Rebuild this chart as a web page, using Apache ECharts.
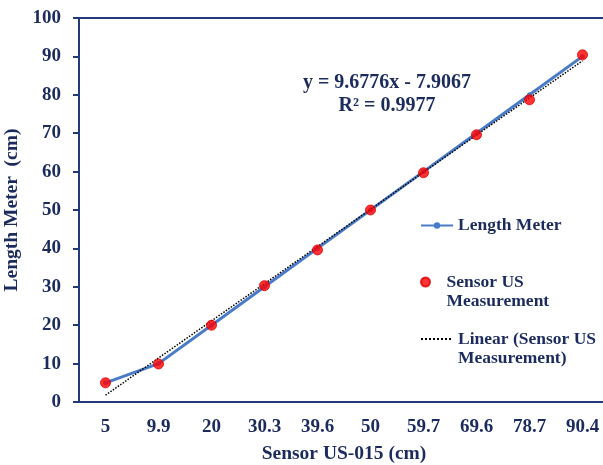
<!DOCTYPE html>
<html>
<head>
<meta charset="utf-8">
<script src="https://cdn.jsdelivr.net/npm/echarts@6/dist/echarts.min.js"></script>
<style>
html,body{margin:0;padding:0;background:#fff;}
#chart{width:603px;height:465px;}
</style>
</head>
<body>
<div id="chart"></div>
<script>
const categories = ['5','9.9','20','30.3','39.6','50','59.7','69.6','78.7','90.4'];
const lengthMeter = [5,10,20,30,40,50,60,70,80,90];
const sensorUS = [5,9.9,20,30.3,39.6,50,59.7,69.6,78.7,90.4];
const trendEnds = [1.77, 88.87];
const equationText = 'y = 9.6776x - 7.9067';
const r2Text = 'R² = 0.9977';

const FONT = '"Liberation Serif","Times New Roman",serif';
const TXT = '#1C2B5E';
const AX = '#22397A';
const BLUE = '#4A7BC8';

const chart = echarts.init(document.getElementById('chart'), null, {renderer:'canvas'});
const legendText = {fontFamily:FONT, fontWeight:'bold', fontSize:17.5, color:TXT, lineHeight:19};
chart.setOption({
  animation:false,
  backgroundColor:'#fff',
  grid:{left:79, top:18, width:530, height:384, outerBoundsMode:'none', containLabel:false,
        show:true, borderColor:AX, borderWidth:2, backgroundColor:'#fff'},
  xAxis:{
    type:'category', data:categories, boundaryGap:true,
    axisLine:{lineStyle:{color:AX, width:2}},
    axisTick:{alignWithLabel:true, length:6, lineStyle:{color:AX, width:2}},
    axisLabel:{fontFamily:FONT, fontWeight:'bold', fontSize:19, color:TXT, margin:16},
    name:'Sensor US-015 (cm)', nameLocation:'middle', nameGap:42,
    nameTextStyle:{fontFamily:FONT, fontWeight:'bold', fontSize:19.5, color:TXT}
  },
  yAxis:{
    type:'value', min:0, max:100, interval:10,
    axisLine:{show:true, lineStyle:{color:AX, width:2}},
    axisTick:{show:true, length:6, lineStyle:{color:AX, width:2}},
    splitLine:{show:false},
    axisLabel:{fontFamily:FONT, fontWeight:'bold', fontSize:19, color:TXT, margin:18},
    name:'Length Meter  (cm)', nameLocation:'middle', nameGap:51,
    nameTextStyle:{fontFamily:FONT, fontWeight:'bold', fontSize:19.5, color:TXT}
  },
  legend:[
    {left:420, top:216, padding:0, itemWidth:32, itemHeight:8, textStyle:legendText,
     data:['Length Meter']},
    {left:420, top:253.5, padding:0, itemWidth:32, itemHeight:9,
     data:['Sensor US Measurement'],
     formatter:function(){return '\nSensor US\nMeasurement';}, textStyle:legendText},
    {left:420, top:310.5, padding:0, itemWidth:32, itemHeight:8,
     data:['Linear (Sensor US Measurement)'], itemStyle:{opacity:0},
     formatter:function(){return '\nLinear (Sensor US\nMeasurement)';}, textStyle:legendText}
  ],
  graphic:[
    {type:'text', x:387, y:71, style:{text:equationText+'\n'+r2Text, font:'bold 20px '+FONT, fill:TXT, align:'center', textAlign:'center', lineHeight:23}}
  ],
  series:[
    {name:'Length Meter', type:'line', data:lengthMeter, symbol:'circle', symbolSize:5, showSymbol:true,
     lineStyle:{color:BLUE, width:3}, itemStyle:{color:BLUE}, z:2},
    {name:'Linear (Sensor US Measurement)', type:'line', data:[[categories[0], trendEnds[0]],[categories[categories.length-1], trendEnds[1]]],
     symbol:'none', lineStyle:{color:'#000', width:1.5, type:'dotted'}, itemStyle:{color:'#000'}, z:3},
    {name:'Sensor US Measurement', type:'scatter', data:sensorUS, symbol:'circle', symbolSize:10,
     itemStyle:{color:'#FF0000', borderColor:'#D80000', borderWidth:1}, z:4}
  ]
});
</script>
</body>
</html>
